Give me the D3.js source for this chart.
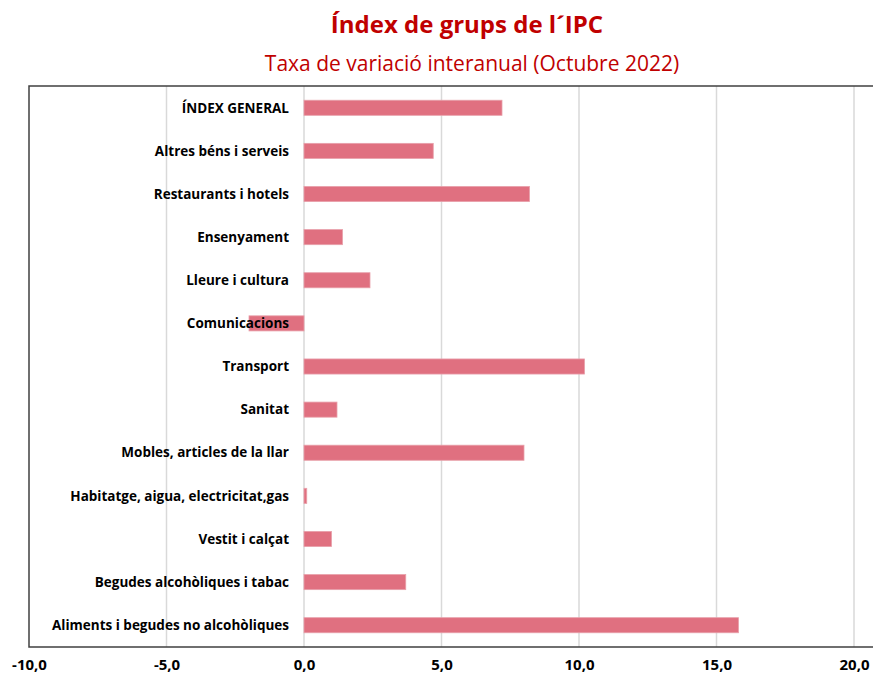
<!DOCTYPE html>
<html>
<head>
<meta charset="utf-8">
<script src="https://cdn.jsdelivr.net/npm/d3@7"></script>
<style>
  body { margin: 0; background: #fff; }
  text { font-family: "Open Sans", sans-serif; }
</style>
</head>
<body>
<div id="chart"></div>
<script>
const width = 873, height = 677;

const categories = [
  "ÍNDEX GENERAL",
  "Altres béns i serveis",
  "Restaurants i hotels",
  "Ensenyament",
  "Lleure i cultura",
  "Comunicacions",
  "Transport",
  "Sanitat",
  "Mobles, articles de la llar",
  "Habitatge, aigua, electricitat,gas",
  "Vestit i calçat",
  "Begudes alcohòliques i tabac",
  "Aliments i begudes no alcohòliques"
];
const values = [7.2, 4.7, 8.2, 1.4, 2.4, -2.0, 10.2, 1.2, 8.0, 0.1, 1.0, 3.7, 15.8];
const ticks = [-10, -5, 0, 5, 10, 15, 20];

const svg = d3.select("#chart").append("svg")
  .attr("width", width)
  .attr("height", height);

const x = d3.scaleLinear().domain([-10, 20]).range([29, 854]);
const y = d3.scaleBand().domain(categories).range([86, 647]).paddingInner(0.65).paddingOuter(0.33);

// titles
svg.append("text")
  .attr("x", 467).attr("y", 33)
  .attr("text-anchor", "middle")
  .attr("fill", "#c00000")
  .style("font-size", "24px").style("font-weight", "bold")
  .text("Índex de grups de l´IPC");

svg.append("text")
  .attr("x", 472).attr("y", 71)
  .attr("text-anchor", "middle")
  .attr("fill", "#c00000")
  .style("font-size", "21px")
  .text("Taxa de variació interanual (Octubre 2022)");

// gridlines
svg.append("g")
  .selectAll("line")
  .data(ticks.filter(d => d > -10))
  .join("line")
  .attr("x1", d => x(d)).attr("x2", d => x(d))
  .attr("y1", 86).attr("y2", 647)
  .attr("stroke", "#d9d9d9")
  .attr("stroke-width", 1.5);

// bars
svg.append("g")
  .selectAll("rect")
  .data(values)
  .join("rect")
  .attr("x", d => x(Math.min(0, d)))
  .attr("y", (d, i) => y(categories[i]))
  .attr("width", d => Math.abs(x(d) - x(0)))
  .attr("height", y.bandwidth())
  .attr("fill", "#e07080")
  .attr("stroke", "#e8a0aa")
  .attr("stroke-width", 0.8);

// category labels
svg.append("g")
  .selectAll("text")
  .data(categories)
  .join("text")
  .attr("x", 289)
  .attr("y", d => y(d) + y.bandwidth() / 2)
  .attr("dy", "0.35em")
  .attr("text-anchor", "end")
  .style("font-size", "13.5px").style("font-weight", "bold")
  .attr("fill", "#000")
  .text(d => d);

// frame
svg.append("path")
  .attr("d", "M880,86H29V647H880")
  .attr("fill", "none")
  .attr("stroke", "#404040")
  .attr("stroke-width", 1.5);

// x axis labels
const xAxis = d3.axisBottom(x).tickValues(ticks).tickSize(0).tickPadding(12)
  .tickFormat(d => d3.format(".1f")(d).replace(".", ",").replace("−", "-"));
svg.append("g")
  .attr("transform", "translate(0,647)")
  .call(xAxis)
  .call(g => g.select(".domain").remove())
  .call(g => g.selectAll("text")
    .attr("fill", "#000")
    .style("font-size", "15px").style("font-weight", "bold")
    .style("font-family", "\"Open Sans\", sans-serif"));
</script>
</body>
</html>
